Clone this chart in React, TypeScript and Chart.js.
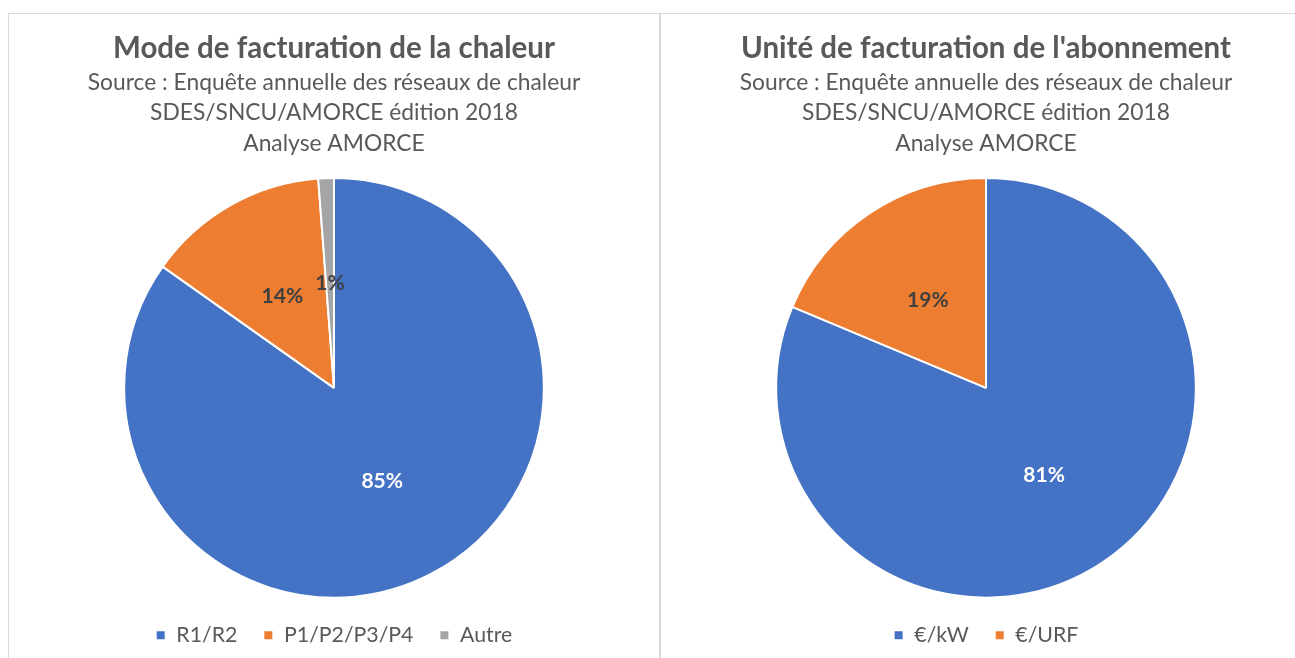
import React, { useEffect, useRef } from "react";
import { Chart, registerables } from "chart.js";

Chart.register(...registerables);

// Chart 1
const title1 = "Mode de facturation de la chaleur";
const categories1 = ["R1/R2", "P1/P2/P3/P4", "Autre"];
const values1 = [84.8, 14.0, 1.2];
const colors1 = ["#4472C4", "#ED7D31", "#A5A5A5"];

// Chart 2
const title2 = "Unité de facturation de l'abonnement";
const categories2 = ["€/kW", "€/URF"];
const values2 = [81.3, 18.7];
const colors2 = ["#4472C4", "#ED7D31"];

const subtitleLines = [
  "Source : Enquête annuelle des réseaux de chaleur",
  "SDES/SNCU/AMORCE édition 2018",
  "Analyse AMORCE",
];

const FONT = "Lato, 'Open Sans', sans-serif";
const TEXT = "#595959";

const labelPlugin = {
  id: "pctLabels",
  afterDatasetsDraw(chart: any) {
    const ctx = chart.ctx;
    const meta = chart.getDatasetMeta(0);
    const data = chart.data.datasets[0].data as number[];
    ctx.save();
    ctx.font = `bold 21px ${FONT}`;
    ctx.textAlign = "center";
    ctx.textBaseline = "middle";
    meta.data.forEach((arc: any, i: number) => {
      const p = arc.getCenterPoint();
      ctx.fillStyle = i === 0 ? "#FFFFFF" : "#404040";
      ctx.fillText(Math.round(data[i]) + "%", p.x, p.y);
    });
    ctx.restore();
  },
};

function PieChart(props: { title: string; labels: string[]; values: number[]; colors: string[] }) {
  const ref = useRef<HTMLCanvasElement>(null);
  useEffect(() => {
    if (!ref.current) return;
    const chart = new Chart(ref.current, {
      type: "pie",
      data: {
        labels: props.labels,
        datasets: [
          {
            data: props.values,
            backgroundColor: props.colors,
            borderColor: "#FFFFFF",
            borderWidth: 2,
          },
        ],
      },
      options: {
        responsive: false,
        animation: false,
        layout: { padding: { top: 0, bottom: 2, left: 0, right: 0 } },
        plugins: {
          title: {
            display: true,
            text: props.title,
            color: TEXT,
            font: { family: FONT, size: 29.5, weight: "bold", lineHeight: 1.2 },
            padding: { top: 16.3, bottom: 1.3 },
          },
          subtitle: {
            display: true,
            text: subtitleLines,
            color: TEXT,
            font: { family: FONT, size: 22.8, lineHeight: 30.5 / 22.8 },
            padding: { top: 0, bottom: 18.5 },
          },
          legend: {
            position: "bottom",
            labels: {
              color: TEXT,
              font: { family: FONT, size: 21.3 },
              boxWidth: 10,
              boxHeight: 10,
              padding: 26,
            },
          },
          tooltip: { enabled: false },
        },
      },
      plugins: [labelPlugin],
    });
    return () => chart.destroy();
  }, []);
  return <canvas ref={ref} width={650} height={644} style={{ display: "block" }} />;
}

export default function App() {
  return (
    <div style={{ position: "fixed", inset: 0, overflow: "hidden", background: "#fff" }}>
      <div
        style={{
          position: "absolute",
          left: 8,
          top: 13,
          width: 650,
          height: 700,
          border: "1px solid #D9D9D9",
        }}
      >
        <PieChart title={title1} labels={categories1} values={values1} colors={colors1} />
      </div>
      <div
        style={{
          position: "absolute",
          left: 660,
          top: 13,
          width: 650,
          height: 700,
          border: "1px solid #D9D9D9",
        }}
      >
        <PieChart title={title2} labels={categories2} values={values2} colors={colors2} />
      </div>
    </div>
  );
}
